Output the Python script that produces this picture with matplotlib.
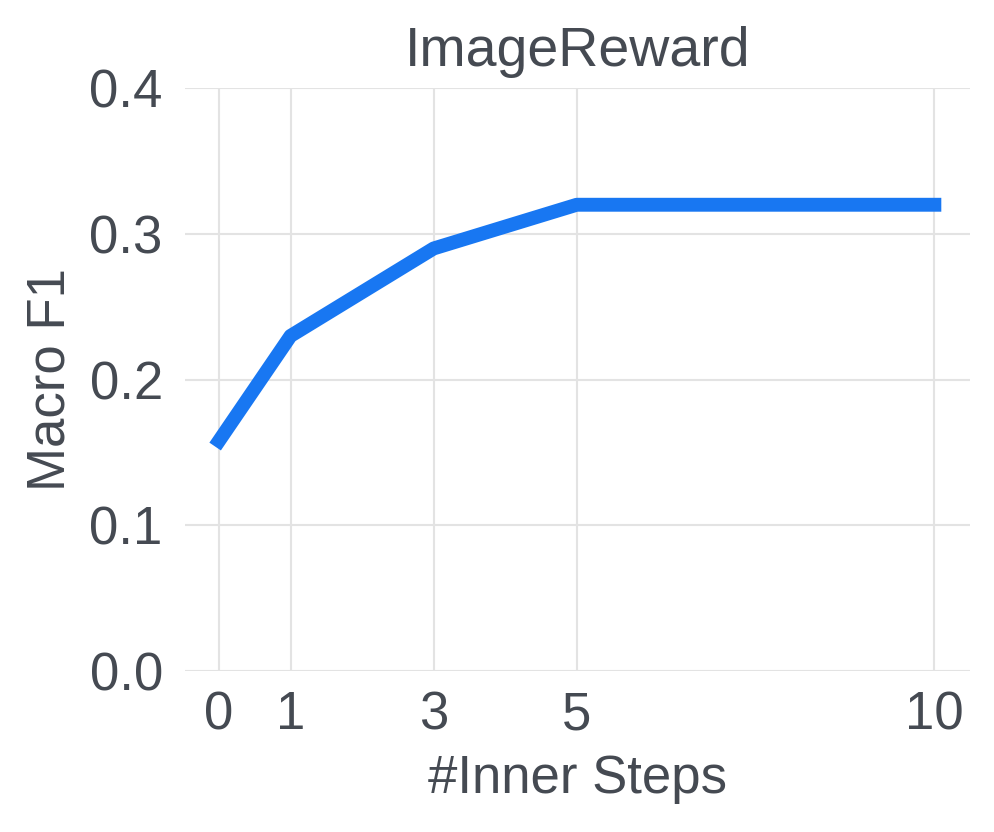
import matplotlib
matplotlib.use("Agg")
import matplotlib.pyplot as plt

steps = [0, 1, 3, 5, 10]
macro_f1 = [0.158, 0.23, 0.29, 0.32, 0.32]
y_ticks = [0.0, 0.1, 0.2, 0.3, 0.4]

text_color = "#454a52"
line_color = "#1877f2"

plt.rcParams['font.family'] = ['Liberation Sans', 'DejaVu Sans']

fig = plt.figure(figsize=(9.95, 8.32), dpi=100)
ax = fig.add_axes([0.186, 0.1935, 0.789, 0.7005])

ax.plot(steps, macro_f1, color=line_color, linewidth=10, solid_capstyle='projecting', zorder=3)

ax.set_xlim(-0.475, 10.5)
ax.set_ylim(0, 0.4)
ax.set_xticks(steps)
ax.set_yticks(y_ticks)
ax.set_yticklabels([f"{v:.1f}" for v in y_ticks])
ax.grid(True, color="#e3e3e3", linewidth=1.5)
ax.set_axisbelow(True)
for s in ax.spines.values():
    s.set_visible(False)
ax.tick_params(length=0, labelsize=38, labelcolor=text_color)
ax.tick_params(axis='x', pad=14)
ax.tick_params(axis='y', pad=16)

ax.set_title("ImageReward", fontsize=40, color=text_color, pad=16)
ax.set_xlabel("#Inner Steps", fontsize=38, color=text_color, labelpad=10)
ax.set_ylabel("Macro F1", fontsize=38, color=text_color, labelpad=10)

fig.savefig("out.png", dpi=100)
